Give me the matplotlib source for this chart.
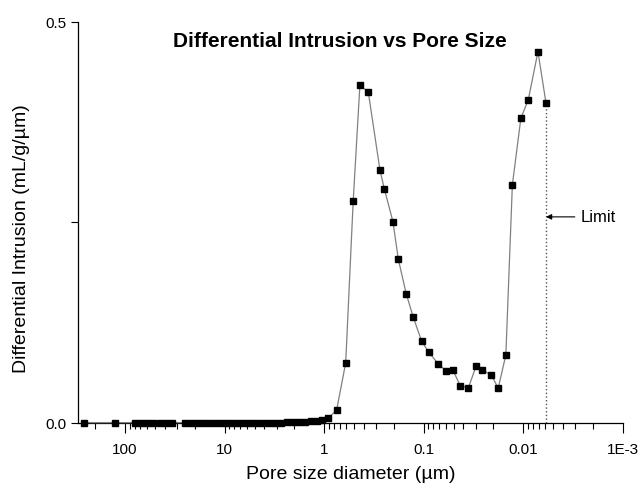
import matplotlib
matplotlib.use("Agg")
import matplotlib.pyplot as plt
from matplotlib.ticker import FixedLocator, FixedFormatter, LogLocator, NullFormatter

plt.rcParams['font.family'] = ['Liberation Sans', 'DejaVu Sans']

# Mercury intrusion: pore diameter (um) and differential intrusion (mL/g/um)
pore_diameter = [
    258, 126, 79.4, 69.1, 60.1, 52.3, 44.5, 38.7, 33.7, 25.0, 21.7, 18.9,
    16.5, 14.4, 12.5, 10.9, 9.46, 8.24, 7.16, 6.24, 5.43, 4.73, 4.11, 3.58,
    3.12, 2.71, 2.36, 2.06, 1.79, 1.56, 1.36, 1.18, 1.05, 0.910, 0.750,
    0.608, 0.511, 0.438, 0.361, 0.275, 0.249, 0.204, 0.180, 0.150, 0.128,
    0.105, 0.0893, 0.0715, 0.0594, 0.0513, 0.0430, 0.0357, 0.0299, 0.0259,
    0.0209, 0.0179, 0.0150, 0.0129, 0.0106, 0.00893, 0.00714, 0.00593,
]
diff_intrusion = [
    0.0005, 0.0005, 0.0005, 0.0005, 0.0005, 0.0005, 0.0005, 0.0005, 0.0005,
    0.0005, 0.0005, 0.0005, 0.0005, 0.0005, 0.0005, 0.0005, 0.0005, 0.0005,
    0.0005, 0.0005, 0.0005, 0.0005, 0.0005, 0.0005, 0.0005, 0.0005, 0.0008,
    0.001, 0.0012, 0.0015, 0.002, 0.003, 0.004, 0.006, 0.016,
    0.075, 0.277, 0.421, 0.413, 0.315, 0.292, 0.251, 0.204, 0.161, 0.1325,
    0.102, 0.0884, 0.0736, 0.0648, 0.0665, 0.0465, 0.0436, 0.0707, 0.0665,
    0.0595, 0.0434, 0.0848, 0.297, 0.380, 0.403, 0.463, 0.399,
]

limit_diameter = pore_diameter[-1]
xtick_values = [100, 10, 1, 0.1, 0.01, 0.001]
xtick_labels = ['100', '10', '1', '0.1', '0.01', '1E-3']

fig = plt.figure(figsize=(6.42, 4.85), dpi=100)
ax = fig.add_axes([0.1215, 0.1258, 0.8489, 0.8268])

ax.plot(pore_diameter, diff_intrusion, color='#808080', linewidth=0.9,
        marker='s', markersize=5, markerfacecolor='black',
        markeredgecolor='black', clip_on=False, zorder=3)

# dotted line marking the instrument limit
ax.plot([limit_diameter, limit_diameter], [0, diff_intrusion[-1]],
        color='#555555', linestyle=':', linewidth=1.0)
ax.annotate('Limit', xy=(limit_diameter, 0.257), xytext=(0.00268, 0.257),
            fontsize=12, va='center', ha='left',
            arrowprops=dict(arrowstyle='-|>', color='black', lw=0.8,
                            mutation_scale=8, shrinkA=2, shrinkB=0))

ax.set_xscale('log')
ax.set_xlim(296, 0.001)
ax.set_ylim(0, 0.5)

ax.xaxis.set_major_locator(FixedLocator(xtick_values))
ax.xaxis.set_major_formatter(FixedFormatter(xtick_labels))
ax.xaxis.set_minor_locator(LogLocator(base=10, subs=range(2, 10), numticks=20))
ax.xaxis.set_minor_formatter(NullFormatter())

ax.set_yticks([0.0, 0.5])
ax.set_yticklabels(['0.0', '0.5'])
ax.set_yticks([0.25], minor=True)

ax.tick_params(axis='x', which='major', length=7, width=0.8, labelsize=11, pad=7)
ax.tick_params(axis='x', which='minor', length=4, width=0.8)
ax.tick_params(axis='y', which='both', length=5, width=0.8, labelsize=11, pad=3)

for side in ('top', 'right'):
    ax.spines[side].set_visible(False)
for side in ('left', 'bottom'):
    ax.spines[side].set_linewidth(0.9)

ax.set_xlabel('Pore size diameter (\u00b5m)', fontsize=14, labelpad=6)
ax.set_ylabel('Differential Intrusion (mL/g/\u00b5m)', fontsize=14)
ax.yaxis.set_label_coords(-0.088, 0.462)
ax.text(0.48, 0.953, 'Differential Intrusion vs Pore Size', transform=ax.transAxes,
        fontsize=15, fontweight='bold', ha='center', va='center')

fig.savefig('out.png', dpi=100)
